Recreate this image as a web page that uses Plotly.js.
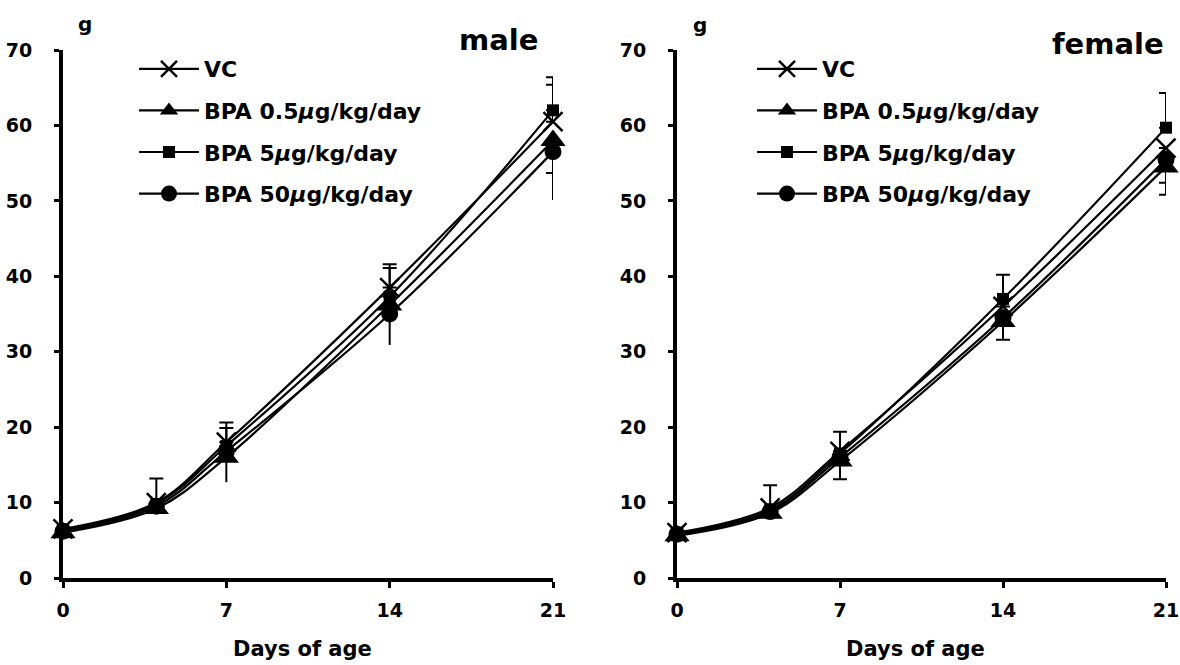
<!DOCTYPE html>
<html>
<head>
<meta charset="utf-8">
<script src="https://cdn.plot.ly/plotly-3.0.1.min.js"></script>
<style>html,body{margin:0;padding:0;background:#fff;}#chart{width:1180px;height:665px;}</style>
</head>
<body>
<div id="chart"></div>
<script>
// ---- data ----
const days = [0, 4, 7, 14, 21];
const xTickVals = [0, 7, 14, 21];
const yTickVals = [0, 10, 20, 30, 40, 50, 60, 70];
const seriesNames = ['VC', 'BPA 0.5<i>μ</i>g/kg/day', 'BPA 5<i>μ</i>g/kg/day', 'BPA 50<i>μ</i>g/kg/day'];

// male body weight (g): VC, 0.5, 5, 50 µg/kg/day
const maleVC = [6.5, 10.0, 18.0, 38.5, 60.5];
const male05 = [6.0, 9.2, 16.0, 36.2, 58.0];
const male5  = [6.3, 9.8, 17.5, 37.3, 62.0];
const male50 = [6.2, 9.5, 16.8, 35.0, 56.5];
// male error bars: upper (capped), lower (capped), lower (no cap)
const maleVCup   = [0, 0, 2.6, 3.1, 4.9];
const male05up   = [0, 0, 0, 0, 0];
const male5up    = [0, 3.4, 2.4, 3.8, 4.4];
const male50up   = [0, 0, 0, 0, 0];
const maleVCdn   = [0, 0, 0, 0, 0];
const male05dn   = [0, 0, 0, 0, 0];
const male5dn    = [0, 0, 0, 0, 0];
const male50dn   = [0, 0, 0, 0, 2.8];
const maleVCtail = [0, 0, 0, 0, 0];
const male05tail = [0, 0, 3.3, 5.3, 7.9];
const male5tail  = [0, 0, 0, 0, 0];
const male50tail = [0, 0, 0, 0, 0];

// female body weight (g)
const femVC  = [6.0, 9.3, 16.8, 36.0, 57.0];
const fem05  = [5.6, 8.6, 15.5, 34.0, 54.5];
const fem5   = [5.9, 9.0, 16.5, 37.0, 59.7];
const fem50  = [5.8, 8.8, 16.0, 34.5, 55.5];
const femVCup   = [0, 0, 0, 0, 0];
const fem05up   = [0, 0, 0, 0, 0];
const fem5up    = [0, 3.3, 2.9, 3.2, 4.6];
const fem50up   = [0, 0, 0, 0, 0];
const femVCdn   = [0, 0, 0, 0, 0];
const fem05dn   = [0, 0, 2.4, 2.4, 3.7];
const fem5dn    = [0, 0, 0, 0, 0];
const fem50dn   = [0, 0, 0, 0, 3.1];
const femVCtail = [0, 0, 0, 0, 0];
const fem05tail = [0, 0, 0, 0, 0];
const fem5tail  = [0, 0, 0, 0, 0];
const fem50tail = [0, 0, 0, 0, 0];

// ---- styling ----
const FONT = 'DejaVu Sans';
const markerStyles = [
  {symbol: 'x-thin-open', size: 19, color: '#000', line: {color: '#000', width: 2.5}},
  {symbol: 'triangle-up', size: 22, color: '#000', line: {color: '#000', width: 0}},
  {symbol: 'square', size: 12, color: '#000', line: {color: '#000', width: 0}},
  {symbol: 'circle', size: 17, color: '#000', line: {color: '#000', width: 0}}
];

function makeTraces(vals, ups, dns, tails, xa, ya, leg) {
  const out = [];
  // uncapped lower whiskers (drawn first, underneath)
  vals.forEach((v, i) => {
    out.push({
      type: 'scatter', x: days, y: v, mode: 'markers',
      marker: {size: 1, opacity: 0}, showlegend: false, hoverinfo: 'skip',
      error_y: {type: 'data', symmetric: false, array: v.map(() => 0), arrayminus: tails[i],
        visible: true, color: '#000', thickness: 2, width: 0},
      xaxis: xa, yaxis: ya, legend: leg, legendgroup: leg + 'w' + i, cliponaxis: false
    });
  });
  vals.forEach((v, i) => {
    out.push({
      type: 'scatter',
      x: days, y: v,
      name: seriesNames[i],
      mode: 'lines+markers',
      line: {shape: 'spline', smoothing: 1, color: '#000', width: 2.2},
      marker: markerStyles[i],
      error_y: {type: 'data', symmetric: false, array: ups[i], arrayminus: dns[i],
        visible: true, color: '#000', thickness: 2, width: 7},
      xaxis: xa, yaxis: ya,
      legend: leg,
      legendgroup: leg + i,
      cliponaxis: false,
      hoverinfo: 'x+y'
    });
  });
  return out;
}

const data = [
  ...makeTraces([maleVC, male05, male5, male50],
                [maleVCup, male05up, male5up, male50up],
                [maleVCdn, male05dn, male5dn, male50dn],
                [maleVCtail, male05tail, male5tail, male50tail], 'x', 'y', 'legend'),
  ...makeTraces([femVC, fem05, fem5, fem50],
                [femVCup, fem05up, fem5up, fem50up],
                [femVCdn, fem05dn, fem5dn, fem50dn],
                [femVCtail, fem05tail, fem5tail, fem50tail], 'x2', 'y2', 'legend2')
];

const tickFont = {family: FONT, size: 19, color: '#000', weight: 'bold'};
function xAxis(domain, anchor) {
  return {domain: domain, anchor: anchor, range: [0, 21], tickvals: xTickVals, ticktext: xTickVals.map(String),
    showline: true, linecolor: '#000', linewidth: 4, ticks: 'outside', ticklen: 6, tickwidth: 3, tickcolor: '#000',
    showgrid: false, zeroline: false, tickfont: tickFont, ticklabelstandoff: 6, ticklabeloverflow: 'allow', fixedrange: true};
}
function yAxis(domain, anchor) {
  return {domain: domain, anchor: anchor, range: [0, 70], tickvals: yTickVals, ticktext: yTickVals.map(String),
    showline: true, linecolor: '#000', linewidth: 4, ticks: 'outside', ticklen: 5, tickwidth: 3, tickcolor: '#000',
    showgrid: false, zeroline: false, tickfont: tickFont, ticklabelstandoff: 18, ticklabeloverflow: 'allow', fixedrange: true};
}
const yDom = [87/665, 615/665];
const legendFont = {family: FONT, size: 22, color: '#000', weight: 'bold'};
function legendCfg(xpx) {
  return {x: xpx/1180, xanchor: 'left', y: 1 - 48/665, yanchor: 'top', bgcolor: 'rgba(0,0,0,0)',
    font: legendFont, itemwidth: 60, tracegroupgap: 10, traceorder: 'grouped', itemclick: false, itemdoubleclick: false};
}
function ann(text, xpx, ypx, size) {
  return {text: text, x: xpx/1180, y: 1 - ypx/665, xref: 'paper', yref: 'paper', showarrow: false,
    xanchor: 'center', yanchor: 'middle', font: {family: FONT, size: size, color: '#000', weight: 'bold'}};
}

const layout = {
  width: 1180, height: 665,
  margin: {l: 0, r: 0, t: 0, b: 0, autoexpand: false},
  paper_bgcolor: '#fff', plot_bgcolor: '#fff',
  showlegend: true,
  xaxis: xAxis([63/1180, 553/1180], 'y'),
  yaxis: yAxis(yDom, 'x'),
  xaxis2: xAxis([677/1180, 1166/1180], 'y2'),
  yaxis2: yAxis(yDom, 'x2'),
  legend: legendCfg(134),
  legend2: legendCfg(752),
  annotations: [
    ann('g', 85, 24, 20),
    ann('g', 700, 25, 20),
    ann('male', 498, 40, 29),
    ann('female', 1108, 44, 29),
    ann('Days of age', 302, 649, 21),
    ann('Days of age', 915, 649, 21)
  ]
};

Plotly.newPlot('chart', data, layout, {displayModeBar: false, staticPlot: true});
</script>
</body>
</html>
